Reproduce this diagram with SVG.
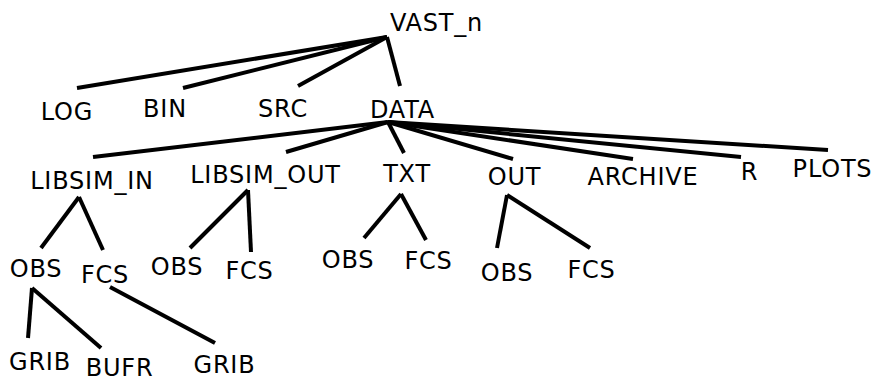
<svg xmlns="http://www.w3.org/2000/svg" width="875" height="382" viewBox="0 0 875 382">
<style>
text{font-family:"DejaVu Sans","Liberation Sans",sans-serif;font-size:24px;letter-spacing:0.8px;fill:#000;text-anchor:middle}
.e line{stroke:#000;stroke-width:4;stroke-linecap:butt}
</style>
<rect width="875" height="382" fill="#fff"/>
<g class="e" id="connectors">
<line x1="387" y1="37" x2="77" y2="88"/>
<line x1="387" y1="37" x2="183" y2="88"/>
<line x1="387" y1="37" x2="298" y2="86"/>
<line x1="387" y1="37" x2="400" y2="86"/>
<line x1="388" y1="122" x2="93" y2="157"/>
<line x1="388" y1="122" x2="286" y2="152"/>
<line x1="388" y1="122" x2="404" y2="153"/>
<line x1="388" y1="122" x2="513" y2="159"/>
<line x1="388" y1="122" x2="633" y2="159"/>
<line x1="388" y1="122" x2="741" y2="157"/>
<line x1="388" y1="122" x2="828" y2="150"/>
<line x1="79" y1="197" x2="41" y2="248"/>
<line x1="79" y1="197" x2="103" y2="250"/>
<line x1="248" y1="190" x2="190" y2="248"/>
<line x1="248" y1="190" x2="251" y2="252"/>
<line x1="401" y1="194" x2="364" y2="238"/>
<line x1="401" y1="194" x2="426" y2="240"/>
<line x1="507" y1="195" x2="497" y2="248"/>
<line x1="507" y1="195" x2="590" y2="248"/>
<line x1="32" y1="288" x2="28" y2="338"/>
<line x1="32" y1="288" x2="101" y2="348"/>
<line x1="110" y1="287" x2="215" y2="343"/>
</g>
<g id="n-vast"><text x="436.5" y="31">VAST_n</text></g>
<g id="n-log"><text x="67" y="120">LOG</text></g>
<g id="n-bin"><text x="165" y="117">BIN</text></g>
<g id="n-src"><text x="283" y="117">SRC</text></g>
<g id="n-data"><text x="402.5" y="118">DATA</text></g>
<g id="n-libsim-in"><text x="92" y="189">LIBSIM_IN</text></g>
<g id="n-libsim-out"><text x="265.5" y="183">LIBSIM_OUT</text></g>
<g id="n-txt"><text x="407" y="182">TXT</text></g>
<g id="n-out"><text x="514.5" y="185">OUT</text></g>
<g id="n-archive"><text x="643" y="185">ARCHIVE</text></g>
<g id="n-r"><text x="749.5" y="180">R</text></g>
<g id="n-plots"><text x="832.5" y="177">PLOTS</text></g>
<g id="n-obs1"><text x="36" y="277">OBS</text></g>
<g id="n-fcs1"><text x="105" y="283">FCS</text></g>
<g id="n-obs2"><text x="177" y="275">OBS</text></g>
<g id="n-fcs2"><text x="249.5" y="279">FCS</text></g>
<g id="n-obs3"><text x="348" y="268">OBS</text></g>
<g id="n-fcs3"><text x="428.5" y="269">FCS</text></g>
<g id="n-obs4"><text x="507" y="281">OBS</text></g>
<g id="n-fcs4"><text x="591.5" y="278">FCS</text></g>
<g id="n-grib1"><text x="40" y="370">GRIB</text></g>
<g id="n-bufr"><text x="119.5" y="376">BUFR</text></g>
<g id="n-grib2"><text x="224.5" y="373">GRIB</text></g>
</svg>
